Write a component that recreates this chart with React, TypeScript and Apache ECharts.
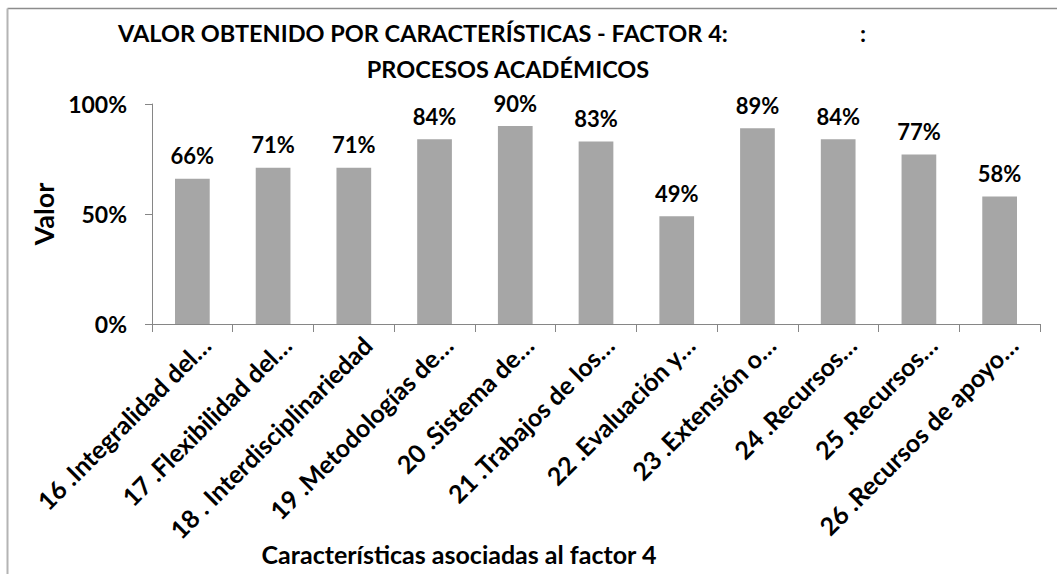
import React, { useEffect, useRef } from "react";
import * as echarts from "echarts";

const categories = [
  "16 .Integralidad del…",
  "17 .Flexibilidad del…",
  "18 . Interdisciplinariedad",
  "19 .Metodologías de…",
  "20 .Sistema de…",
  "21 .Trabajos de los…",
  "22 .Evaluación y…",
  "23 .Extensión o…",
  "24 .Recursos…",
  "25 .Recursos…",
  "26 .Recursos de apoyo…",
];
const values = [0.66, 0.71, 0.71, 0.84, 0.9, 0.83, 0.49, 0.89, 0.84, 0.77, 0.58];
const titleLine1 = "VALOR OBTENIDO POR CARACTERÍSTICAS - FACTOR 4:";
const titleColon = ":";
const titleLine2 = "PROCESOS ACADÉMICOS";
const xAxisName = "Características asociadas al factor 4";
const yAxisName = "Valor";

const FONT = "Lato, 'Open Sans', sans-serif";

export default function App() {
  const ref = useRef<HTMLDivElement>(null);
  useEffect(() => {
    if (!ref.current) return;
    const chart = echarts.init(ref.current, undefined, { renderer: "svg" });
    chart.setOption({
      animation: false,
      backgroundColor: "#ffffff",
      textStyle: { fontFamily: FONT },
      grid: { left: 152, right: 17, top: 104, bottom: 250, containLabel: false },
      xAxis: {
        type: "category",
        data: categories,
        axisLine: { show: true, lineStyle: { color: "#868686", width: 1 } },
        axisTick: { show: true, alignWithLabel: false, length: 8, lineStyle: { color: "#868686" } },
        axisLabel: {
          interval: 0,
          rotate: 45,
          margin: 30,
          color: "#000",
          fontFamily: FONT,
          fontWeight: "bold",
          fontSize: 25,
          padding: [0, -19, 0, 0],
        },
        splitLine: { show: false },
      },
      yAxis: {
        type: "value",
        min: 0,
        max: 1,
        interval: 0.5,
        name: yAxisName,
        nameLocation: "middle",
        nameGap: 77,
        nameRotate: 90,
        nameTextStyle: { color: "#000", fontFamily: FONT, fontWeight: "bold", fontSize: 27 },
        axisLine: { show: true, lineStyle: { color: "#868686", width: 1 } },
        axisTick: { show: true, inside: false, length: 7, lineStyle: { color: "#868686" } },
        axisLabel: {
          margin: 25,
          color: "#000",
          fontFamily: FONT,
          fontWeight: "bold",
          fontSize: 23,
          formatter: (v: number) => `${Math.round(v * 100)}%`,
        },
        splitLine: { show: false },
      },
      series: [
        {
          type: "bar",
          data: values,
          barWidth: "43%",
          itemStyle: { color: "#a6a6a6" },
          label: {
            show: true,
            position: "top",
            distance: 12,
            color: "#000",
            fontFamily: FONT,
            fontWeight: "bold",
            fontSize: 22,
            formatter: (p: any) => `${Math.round(p.value * 100)}%`,
          },
        },
      ],
      graphic: [
        { type: "line", shape: { x1: 7.5, y1: 8.5, x2: 1057, y2: 8.5 }, style: { stroke: "#8c8c8c", lineWidth: 1.5 }, silent: true },
        { type: "line", shape: { x1: 7.5, y1: 8.5, x2: 7.5, y2: 574 }, style: { stroke: "#b4b4b4", lineWidth: 2 }, silent: true },
        {
          type: "text",
          x: 118,
          y: 33,
          style: { text: titleLine1, fontFamily: FONT, fontWeight: "bold", fontSize: 23.5, fill: "#000", align: "left", verticalAlign: "middle" },
        },
        {
          type: "text",
          x: 860,
          y: 33,
          style: { text: titleColon, fontFamily: FONT, fontWeight: "bold", fontSize: 23.5, fill: "#000", align: "left", verticalAlign: "middle" },
        },
        {
          type: "text",
          x: 508,
          y: 69,
          style: { text: titleLine2, fontFamily: FONT, fontWeight: "bold", fontSize: 23.5, fill: "#000", align: "center", verticalAlign: "middle" },
        },
        {
          type: "text",
          x: 459,
          y: 554,
          style: { text: xAxisName, fontFamily: FONT, fontWeight: "bold", fontSize: 25, fill: "#000", align: "center", verticalAlign: "middle" },
        },
      ],
    });
    return () => chart.dispose();
  }, []);
  return (
    <div
      ref={ref}
      style={{ position: "fixed", left: 0, top: 0, width: 1057, height: 574, background: "#fff" }}
    />
  );
}
